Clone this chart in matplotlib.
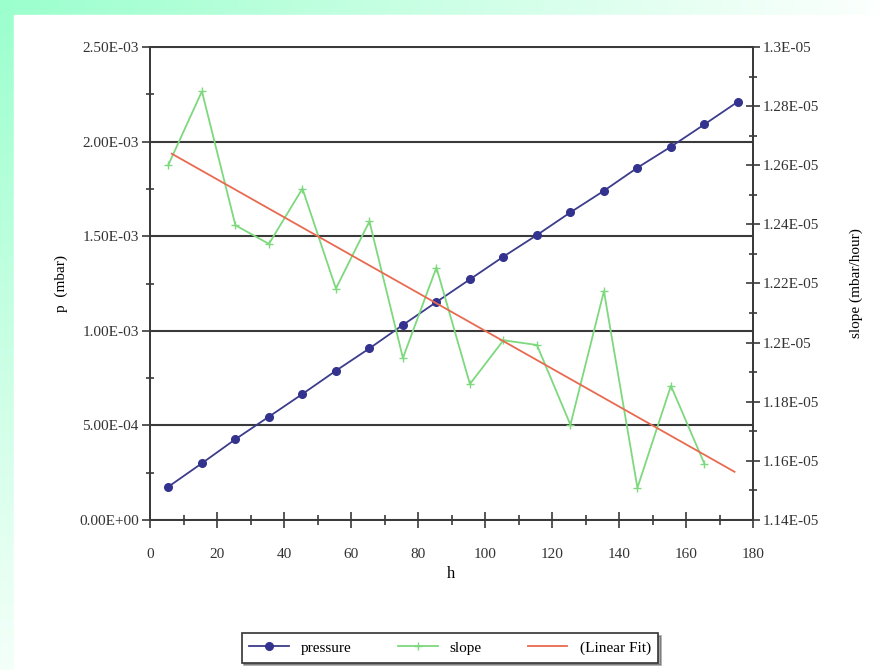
import numpy as np
import matplotlib
matplotlib.use("Agg")
import matplotlib.pyplot as plt
from matplotlib.ticker import MultipleLocator

# elapsed time (h)
HOURS = [5.5, 15.5, 25.5, 35.5, 45.5, 55.5, 65.5, 75.5, 85.5, 95.5,
         105.5, 115.5, 125.5, 135.5, 145.5, 155.5, 165.5, 175.5]

# pressure (mbar)
PRESSURE = [1.76e-4, 3.00e-4, 4.27e-4, 5.46e-4, 6.66e-4, 7.89e-4, 9.07e-4,
            1.031e-3, 1.152e-3, 1.272e-3, 1.392e-3, 1.506e-3, 1.626e-3,
            1.740e-3, 1.862e-3, 1.973e-3, 2.091e-3, 2.211e-3]

# slope (mbar/hour) (one point fewer than pressure)
SLOPE_HOURS = HOURS[:-1]
SLOPE = [1.2602e-5, 1.2850e-5, 1.2397e-5, 1.2334e-5, 1.2521e-5, 1.2183e-5,
         1.2410e-5, 1.1948e-5, 1.2254e-5, 1.1860e-5, 1.2008e-5, 1.1992e-5,
         1.1722e-5, 1.2174e-5, 1.1509e-5, 1.1854e-5, 1.1590e-5]

# end points of the linear fit line
FIT_HOURS = [6.5, 174.5]
FIT_SLOPE = [1.2639e-5, 1.1563e-5]

LEFT_TICKS = [0.0, 5e-4, 1e-3, 1.5e-3, 2e-3, 2.5e-3]
LEFT_LABELS = ["0.00E+00", "5.00E-04", "1.00E-03", "1.50E-03", "2.00E-03", "2.50E-03"]
RIGHT_TICKS = [1.14e-5, 1.16e-5, 1.18e-5, 1.2e-5, 1.22e-5, 1.24e-5, 1.26e-5, 1.28e-5, 1.3e-5]
RIGHT_LABELS = ["1.14E-05", "1.16E-05", "1.18E-05", "1.2E-05", "1.22E-05",
                "1.24E-05", "1.26E-05", "1.28E-05", "1.3E-05"]

plt.rcParams["font.family"] = ["Liberation Serif", "DejaVu Serif"]

W, H = 880, 670
fig = plt.figure(figsize=(W / 100, H / 100), dpi=100)

# mint green border that fades to white (top strip and left strip)
bg = fig.add_axes([0, 0, 1, 1], zorder=-10)
xs = np.linspace(0, 1, 88)
ys = np.linspace(0, 1, 67)
gx, gy = np.meshgrid(xs, ys)
t = (1 - 0.97 * gx) * (1 - 0.88 * gy)
mint = np.array([155, 255, 205]) / 255.0
img = 1 - t[..., None] * (1 - mint)
bg.imshow(img, extent=[0, W, H, 0], aspect="auto", interpolation="bilinear")
bg.add_patch(plt.Rectangle((14, 15), W - 14, H - 15, color="white"))
bg.set_xlim(0, W)
bg.set_ylim(H, 0)
bg.axis("off")

ax = fig.add_axes([150 / W, 1 - 520 / H, (753 - 150) / W, (520 - 47) / H])
ax2 = ax.twinx()

axis_color = "#3a3a3a"
for a in (ax, ax2):
    for s in a.spines.values():
        s.set_color(axis_color)
        s.set_linewidth(1.3)

# pressure
ax.plot(HOURS, PRESSURE, color="#3c3c8c", linewidth=1.3, marker="o",
        markersize=5.5, markerfacecolor="#33338f", markeredgecolor="#33338f",
        label="pressure", zorder=3)
ax.set_xlim(0, 180)
ax.set_ylim(0, 2.5e-3)
ax.set_yticks(LEFT_TICKS)
ax.set_yticklabels(LEFT_LABELS)
ax.yaxis.set_minor_locator(MultipleLocator(2.5e-4))
ax.xaxis.set_major_locator(MultipleLocator(20))
ax.xaxis.set_minor_locator(MultipleLocator(10))
ax.grid(axis="y", color=axis_color, linewidth=1.5)
ax.set_axisbelow(True)
ax.tick_params(axis="y", which="major", direction="out", length=6, width=1.2,
               color=axis_color, labelsize=11, pad=2)
ax.tick_params(axis="y", which="minor", direction="inout", length=6, width=1.2,
               color=axis_color)
ax.tick_params(axis="x", which="major", direction="inout", length=12, width=1.2,
               color=axis_color, labelsize=11, pad=14)
ax.tick_params(axis="x", which="minor", direction="inout", length=7, width=1.2,
               color=axis_color)
ax.set_xlabel("h", fontsize=12, labelpad=4)
ax.set_ylabel("p  (mbar)", fontsize=11, labelpad=8)

# slope and its linear fit
ax2.plot(SLOPE_HOURS, SLOPE, color="#7ed87e", linewidth=1.3, marker="+",
         markersize=6, label="slope", zorder=2)
ax2.plot(FIT_HOURS, FIT_SLOPE, color="#e86a50", linewidth=1.3,
         label="(Linear Fit)", zorder=2)
ax2.set_ylim(1.14e-5, 1.3e-5)
ax2.set_yticks(RIGHT_TICKS)
ax2.set_yticklabels(RIGHT_LABELS)
ax2.yaxis.set_minor_locator(MultipleLocator(1e-7))
ax2.tick_params(axis="y", which="major", direction="inout", length=10, width=1.2,
                color=axis_color, labelsize=11, pad=2)
ax2.tick_params(axis="y", which="minor", direction="inout", length=6, width=1.2,
                color=axis_color)
ax2.set_ylabel("slope (mbar/hour)", fontsize=11, labelpad=22)

for lab in ax.get_xticklabels() + ax.get_yticklabels() + ax2.get_yticklabels():
    lab.set_color("#333333")

handles = ax.get_lines()[:1] + ax2.get_lines()
leg = fig.legend(handles, [h.get_label() for h in handles], loc="center",
                 bbox_to_anchor=(450 / W, 1 - 648 / H), ncol=3, fontsize=11,
                 frameon=True, fancybox=False, shadow=True, edgecolor="#333333",
                 handlelength=2.6, columnspacing=3.0, borderpad=0.5)
leg.get_frame().set_linewidth(1.2)

fig.savefig("out.png", dpi=100)
